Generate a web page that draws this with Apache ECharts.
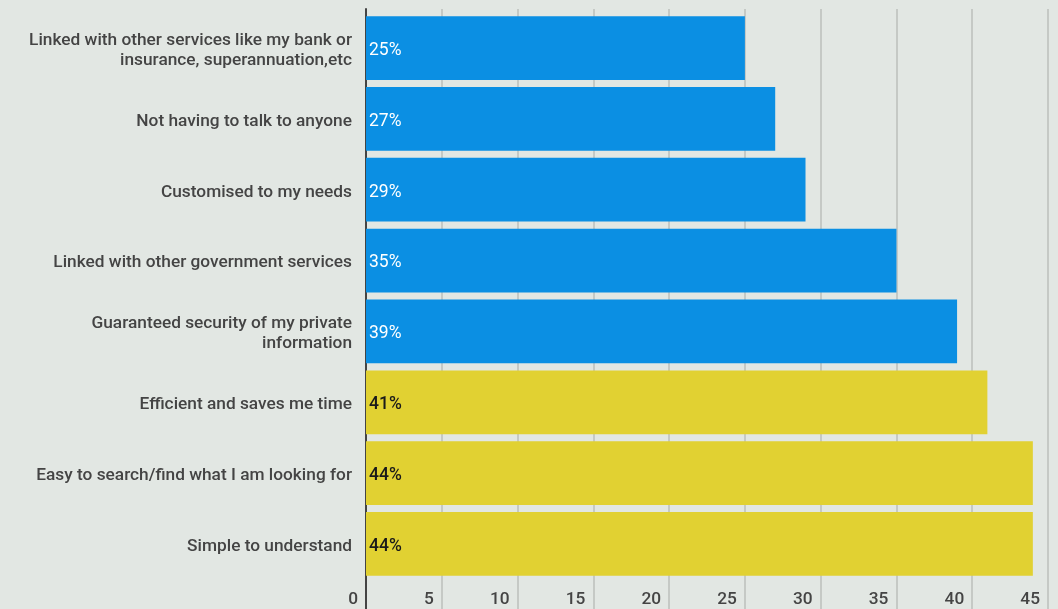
<!DOCTYPE html>
<html>
<head>
<meta charset="utf-8">
<script src="https://cdn.jsdelivr.net/npm/echarts@6/dist/echarts.min.js"></script>
<style>
  html, body { margin: 0; padding: 0; background: #e2e7e3; }
  #chart { width: 1058px; height: 609px; }
</style>
</head>
<body>
<div id="chart"></div>
<script>
// Reasons people value a digital service, share of respondents (%)
const categories = [
  'Linked with other services like my bank or\ninsurance, superannuation,etc',
  'Not having to talk to anyone',
  'Customised to my needs',
  'Linked with other government services',
  'Guaranteed security of my private\ninformation',
  'Efficient and saves me time',
  'Easy to search/find what I am looking for',
  'Simple to understand'
];
const values = [25, 27, 29, 35, 39, 41, 44, 44];
// top five in blue, the rest highlighted in yellow
const highlighted = [false, false, false, false, false, true, true, true];
const axisTicks = [0, 5, 10, 15, 20, 25, 30, 35, 40, 45];

const BLUE = '#0b8fe3';
const YELLOW = '#e1d132';
const FONT = 'Roboto';

const chart = echarts.init(document.getElementById('chart'));

const barData = values.map((v, i) => ({
  value: v,
  itemStyle: { color: highlighted[i] ? YELLOW : BLUE },
  label: highlighted[i]
    ? { color: '#1a1a1a', fontWeight: 500 }
    : { color: '#ffffff', fontWeight: 400 }
}));

const hiddenValueAxis = gridIndex => ({
  gridIndex,
  type: 'value',
  min: axisTicks[0],
  max: axisTicks[axisTicks.length - 1],
  show: false
});

chart.setOption({
  backgroundColor: '#e2e7e3',
  animation: false,
  grid: [
    // full-height frame carrying the gridlines, the value labels and the left axis line
    { left: 366, right: 10, top: 9, bottom: 0, containLabel: false },
    // plot area for the bars
    { left: 366, right: 10, top: 12.6, bottom: 29.6, containLabel: false },
    // same bands, nudged down slightly, for the category names
    { left: 366, right: 10, top: 15.1, bottom: 27.1, containLabel: false }
  ],
  xAxis: [
    {
      gridIndex: 0,
      type: 'value',
      min: axisTicks[0],
      max: axisTicks[axisTicks.length - 1],
      interval: axisTicks[1] - axisTicks[0],
      axisLine: { show: false },
      axisTick: { show: false },
      splitLine: { show: true, lineStyle: { color: '#c5c9c5', width: 2 } },
      axisLabel: {
        inside: true,
        align: 'right',
        margin: 1,
        padding: [0, 8, 0, 0],
        color: '#444444',
        fontFamily: FONT,
        fontSize: 17.3,
        fontWeight: 500
      }
    },
    hiddenValueAxis(1),
    hiddenValueAxis(2)
  ],
  yAxis: [
    {
      gridIndex: 0,
      type: 'value',
      min: 0,
      max: 1,
      axisLine: { show: true, lineStyle: { color: '#444444', width: 2 } },
      axisTick: { show: false },
      axisLabel: { show: false },
      splitLine: { show: false }
    },
    {
      gridIndex: 1,
      type: 'category',
      data: categories,
      inverse: true,
      axisLine: { show: false },
      axisTick: { show: false },
      splitLine: { show: false },
      axisLabel: { show: false }
    },
    {
      gridIndex: 2,
      type: 'category',
      data: categories,
      inverse: true,
      axisLine: { show: false },
      axisTick: { show: false },
      splitLine: { show: false },
      axisLabel: {
        margin: 14,
        color: '#444444',
        fontFamily: FONT,
        fontSize: 17.3,
        fontWeight: 500,
        lineHeight: 20,
        align: 'right'
      }
    }
  ],
  series: [
    {
      type: 'bar',
      xAxisIndex: 1,
      yAxisIndex: 1,
      data: barData,
      barCategoryGap: '10%',
      label: {
        show: true,
        position: 'insideLeft',
        distance: 3,
        offset: [0, 2.5],
        formatter: p => p.value + '%',
        fontFamily: FONT,
        fontSize: 17.5
      }
    }
  ]
});
</script>
</body>
</html>
